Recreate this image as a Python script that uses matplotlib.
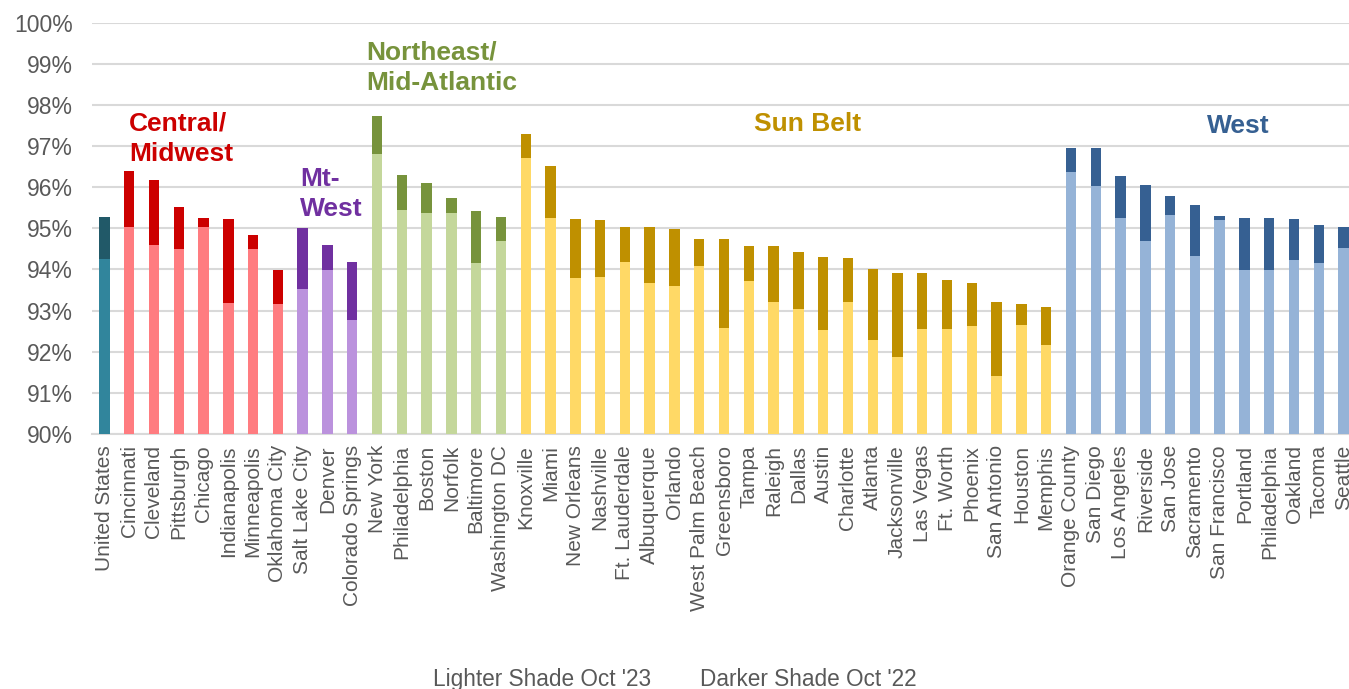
import matplotlib
matplotlib.use("Agg")
import matplotlib.pyplot as plt
import matplotlib.ticker as mticker

plt.rcParams['font.family'] = ['Liberation Sans', 'DejaVu Sans']

# Cities, Oct '23 (lighter) and Oct '22 (darker) values in %
cities = ['United States', 'Cincinnati', 'Cleveland', 'Pittsburgh', 'Chicago', 'Indianapolis',
          'Minneapolis', 'Oklahoma City', 'Salt Lake City', 'Denver', 'Colorado Springs',
          'New York', 'Philadelphia', 'Boston', 'Norfolk', 'Baltimore', 'Washington DC',
          'Knoxville', 'Miami', 'New Orleans', 'Nashville', 'Ft. Lauderdale', 'Albuquerque',
          'Orlando', 'West Palm Beach', 'Greensboro', 'Tampa', 'Raleigh', 'Dallas', 'Austin',
          'Charlotte', 'Atlanta', 'Jacksonville', 'Las Vegas', 'Ft. Worth', 'Phoenix',
          'San Antonio', 'Houston', 'Memphis', 'Orange County', 'San Diego', 'Los Angeles',
          'Riverside', 'San Jose', 'Sacramento', 'San Francisco', 'Portland', 'Philadelphia',
          'Oakland', 'Tacoma', 'Seattle']

oct23 = [94.26, 95.04, 94.60, 94.50, 95.04, 93.19, 94.50, 93.16, 93.53, 93.99, 92.77,
         96.81, 95.45, 95.38, 95.38, 94.16, 94.70,
         96.72, 95.26, 93.80, 93.82, 94.18, 93.67, 93.60, 94.09, 92.58, 93.72, 93.21,
         93.04, 92.53, 93.21, 92.29, 91.87, 92.55, 92.55, 92.63, 91.41, 92.65, 92.17,
         96.37, 96.03, 95.26, 94.70, 95.33, 94.33, 95.21, 93.99, 93.99, 94.23, 94.16, 94.53]

oct22 = [95.28, 96.40, 96.18, 95.52, 95.26, 95.23, 94.84, 93.99, 95.01, 94.60, 94.18,
         97.74, 96.30, 96.11, 95.74, 95.43, 95.28,
         97.30, 96.52, 95.23, 95.21, 95.04, 95.04, 94.99, 94.74, 94.74, 94.57, 94.57,
         94.43, 94.31, 94.28, 94.01, 93.92, 93.92, 93.75, 93.67, 93.21, 93.16, 93.09,
         96.96, 96.96, 96.28, 96.06, 95.79, 95.57, 95.30, 95.26, 95.26, 95.23, 95.09, 95.04]

# region of each bar
regions = (['US'] + ['Central'] * 7 + ['MtWest'] * 3 + ['Northeast'] * 6
           + ['SunBelt'] * 22 + ['West'] * 12)

light_colors = {'US': '#31859C', 'Central': '#FF7C80', 'MtWest': '#BB92DD',
                'Northeast': '#C4D79B', 'SunBelt': '#FFD966', 'West': '#95B3D7'}
dark_colors = {'US': '#215968', 'Central': '#CC0000', 'MtWest': '#7030A0',
               'Northeast': '#77933C', 'SunBelt': '#BF9000', 'West': '#366092'}

fig = plt.figure(figsize=(13.49, 6.89), dpi=100)
ax = fig.add_axes([0.0682, 0.3701, 0.937, 0.597])

x = list(range(len(cities)))
light_h = [v - 90 for v in oct23]
dark_h = [b - a for a, b in zip(oct23, oct22)]

ax.bar(x, light_h, bottom=90, width=0.42, color=[light_colors[r] for r in regions], zorder=3)
ax.bar(x, dark_h, bottom=oct23, width=0.42, color=[dark_colors[r] for r in regions], zorder=3)

ax.set_xlim(-0.5, len(cities) - 0.5)
ax.set_ylim(90, 100)
ax.set_yticks(range(90, 101))
ax.yaxis.set_major_formatter(mticker.FuncFormatter(lambda v, _: f'{v:.0f}%'))
ax.set_xticks(x)
ax.set_xticklabels(cities, rotation=90, fontsize=15, color='#595959')
ax.tick_params(axis='y', labelsize=16.5, labelcolor='#595959', length=0, pad=14)
ax.tick_params(axis='x', length=0, pad=8)

ax.grid(axis='y', color='#D9D9D9', linewidth=1.5, zorder=0)
for s in ['top', 'right', 'left']:
    ax.spines[s].set_visible(False)
ax.spines['bottom'].set_color('#D9D9D9')
ax.spines['bottom'].set_linewidth(1.5)

# region labels
lab = dict(fontsize=19, fontweight='bold', va='top', ha='left', linespacing=1.34)
ax.text(1.0, 97.85, 'Central/\nMidwest', color='#CC0000', **lab)
ax.text(7.9, 96.5, 'Mt-\nWest', color='#7030A0', **lab)
ax.text(10.55, 99.56, 'Northeast/\nMid-Atlantic', color='#77933C', **lab)
ax.text(26.2, 97.82, 'Sun Belt', color='#BF9000', **lab)
ax.text(44.5, 97.79, 'West', color='#366092', **lab)

# legend text
fig.text(433 / 1349, 3 / 689, "Lighter Shade Oct '23", fontsize=16.3, color='#595959', va='baseline')
fig.text(700 / 1349, 3 / 689, "Darker Shade Oct '22", fontsize=16.3, color='#595959', va='baseline')

fig.savefig('out.png', dpi=100)
